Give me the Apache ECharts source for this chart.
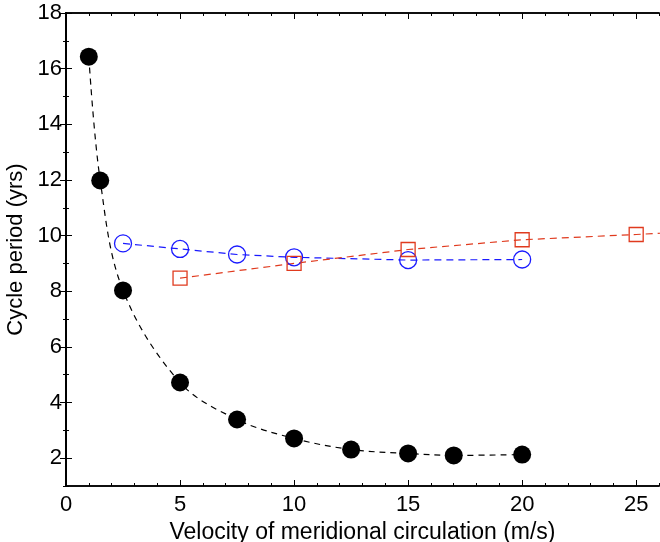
<!DOCTYPE html>
<html><head><meta charset="utf-8">
<script src="https://cdn.jsdelivr.net/npm/echarts@6/dist/echarts.min.js"></script>
<style>html,body{margin:0;padding:0;background:#fff}#chart{width:660px;height:542px}</style>
</head><body><div id="chart"></div>
<script>
// Cycle period versus meridional circulation speed, three model runs
const velocityFilled = [1, 1.5, 2.5, 5, 7.5, 10, 12.5, 15, 17, 20];
const periodFilled   = [16.43, 11.98, 8.03, 4.72, 3.39, 2.71, 2.31, 2.17, 2.1, 2.13];
const velocityCircle = [2.5, 5, 7.5, 10, 15, 20];
const periodCircle   = [9.72, 9.52, 9.32, 9.22, 9.12, 9.14];
const velocitySquare = [5, 10, 15, 20, 25, 30];
const periodSquare   = [8.47, 9.0, 9.5, 9.85, 10.04, 10.25];

// tick positions
const xMajorTicks = [0, 5, 10, 15, 20, 25];
const xMinorTicks = [1, 2, 3, 4, 6, 7, 8, 9, 11, 12, 13, 14, 16, 17, 18, 19, 21, 22, 23, 24, 26];
const yMajorTicks = [2, 4, 6, 8, 10, 12, 14, 16, 18];
const yMinorTicks = [1, 3, 5, 7, 9, 11, 13, 15, 17];

const xTitle = 'Velocity of meridional circulation (m/s)';
const yTitle = 'Cycle period (yrs)';

const FONT = '"Liberation Sans", Arial, sans-serif';
const X_RANGE = [0, 26];
const Y_RANGE = [1, 18];
const pairs = (xs, ys) => xs.map((x, i) => [x, ys[i]]);

const axisLineStyle = { show: true, lineStyle: { color: '#000', width: 1.6 } };

function tickAxis(kind, pos, values, len, withLabels) {
  const range = kind === 'x' ? X_RANGE : Y_RANGE;
  const ax = {
    type: 'value', position: pos, min: range[0], max: range[1],
    axisLine: axisLineStyle,
    axisTick: { show: true, inside: true, length: len, customValues: values,
                lineStyle: { color: '#000', width: 1 } },
    minorTick: { show: false },
    splitLine: { show: false },
    axisLabel: { show: false }
  };
  if (withLabels) {
    ax.axisLabel = {
      show: true, customValues: values, fontFamily: FONT, fontSize: 22, color: '#000',
      margin: kind === 'x' ? 8 : 4
    };
    ax.name = kind === 'x' ? xTitle : yTitle;
    ax.nameLocation = 'middle';
    ax.nameGap = kind === 'x' ? 26 : 29;
    ax.nameTextStyle = { fontFamily: FONT, fontSize: kind === 'x' ? 23 : 22, color: '#000' };
  }
  return ax;
}

const chart = echarts.init(document.getElementById('chart'), null, { renderer: 'canvas' });
chart.setOption({
  backgroundColor: '#fff',
  animation: false,
  grid: { left: 66, top: 13, right: 1, bottom: 56, outerBoundsMode: 'none', containLabel: false },
  xAxis: [
    tickAxis('x', 'bottom', xMajorTicks, 6, true),
    tickAxis('x', 'bottom', xMinorTicks, 3, false),
    tickAxis('x', 'top', xMajorTicks, 6, false),
    tickAxis('x', 'top', xMinorTicks, 3, false)
  ],
  yAxis: [
    tickAxis('y', 'left', yMajorTicks, 6, true),
    tickAxis('y', 'left', yMinorTicks, 3, false),
    tickAxis('y', 'right', yMajorTicks, 6, false),
    tickAxis('y', 'right', yMinorTicks, 3, false)
  ],
  series: [
    {
      type: 'line', data: pairs(velocityFilled, periodFilled), smooth: 0.35,
      symbol: 'circle', symbolSize: 18,
      lineStyle: { color: '#000', width: 1.2, type: [6, 5] },
      itemStyle: { color: '#000' }, z: 3
    },
    {
      type: 'line', data: pairs(velocityCircle, periodCircle),
      symbol: 'circle', symbolSize: 17,
      lineStyle: { color: '#1a1aff', width: 1.2, type: [7, 5] },
      itemStyle: { color: 'rgba(0,0,0,0)', borderColor: '#1a1aff', borderWidth: 1.3 }, z: 2
    },
    {
      type: 'line', data: pairs(velocitySquare, periodSquare),
      symbol: 'rect', symbolSize: 14,
      lineStyle: { color: '#e03a1e', width: 1.2, type: [7, 5] },
      itemStyle: { color: 'rgba(0,0,0,0)', borderColor: '#e03a1e', borderWidth: 1.3 }, z: 2
    }
  ]
});
</script></body></html>
